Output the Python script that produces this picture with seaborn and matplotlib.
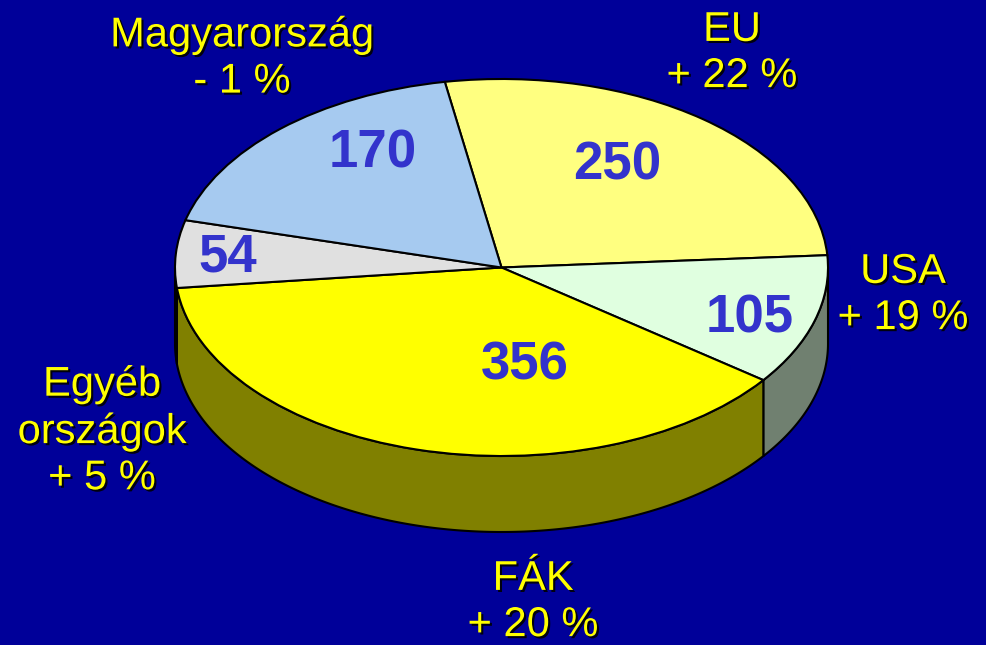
import numpy as np
import matplotlib
matplotlib.use('Agg')
from matplotlib import pyplot as plt
from matplotlib import patheffects as pe
from matplotlib.colors import to_rgb
import seaborn as sns

# Data
regions = ['EU', 'USA', 'FÁK', 'Egyéb\nországok', 'Magyarország']
values = [250, 105, 356, 54, 170]
changes = ['+ 22 %', '+ 19 %', '+ 20 %', '+ 5 %', '- 1 %']

# Style
top_colors = ['#FFFF80', '#E0FFE0', '#FFFF00', '#E0E0E0', '#A6CAF0']
bg = '#000099'
value_color = '#3333CC'
label_color = '#FFFF00'
# text anchors in pixels (x, y from top)
value_pos = [(617, 166), (750, 318), (525, 366), (228, 258), (373, 153)]
label_pos = [(732, 53), (903, 295), (533, 602), (102, 431), (242, 58)]

W, H = 987, 645
cx, cy, a, b = 501.5, 267.5, 326.5, 188.5
depth = 76 / b
start = 100

sns.set_theme(style='white', rc={'figure.facecolor': bg, 'axes.facecolor': bg})
plt.rcParams['font.family'] = ['Liberation Sans', 'DejaVu Sans']

fig = plt.figure(figsize=(W / 100, H / 100), dpi=100)
ax = fig.add_axes([0, 0, 1, 1])

wedges, _ = ax.pie(values, colors=top_colors, startangle=start, counterclock=False,
                   radius=1, wedgeprops=dict(edgecolor='black', linewidth=1.5))

# side walls of the cylinder (front half only)
for w, col in zip(wedges, top_colors):
    t = np.radians(np.linspace(w.theta1, w.theta2, 400))
    t = t[np.sin(t) <= 1e-9]
    if len(t) < 2:
        continue
    xs = np.concatenate([np.cos(t), np.cos(t[::-1])])
    ys = np.concatenate([np.sin(t), np.sin(t[::-1]) - depth])
    side = np.array(to_rgb(col)) * 0.5
    ax.fill(xs, ys, facecolor=side, edgecolor='black', linewidth=1.5, zorder=0.5)

ax.set_aspect('auto')
ax.set_xlim(-cx / a, (W - cx) / a)
ax.set_ylim((cy - H) / b, cy / b)
ax.axis('off')

for v, (px, py) in zip(values, value_pos):
    fig.text(px / W, 1 - py / H, str(v), color=value_color, fontsize=38,
             fontweight='bold', ha='center', va='center')

shadow = [pe.withSimplePatchShadow(offset=(1.5, -1.5), shadow_rgbFace='black', alpha=0.9)]
for r, c, (px, py) in zip(regions, changes, label_pos):
    fig.text(px / W, 1 - py / H, r + '\n' + c, color=label_color, fontsize=30,
             ha='center', va='center', linespacing=1.2, path_effects=shadow)

fig.savefig('out.png', dpi=100, facecolor=bg)
